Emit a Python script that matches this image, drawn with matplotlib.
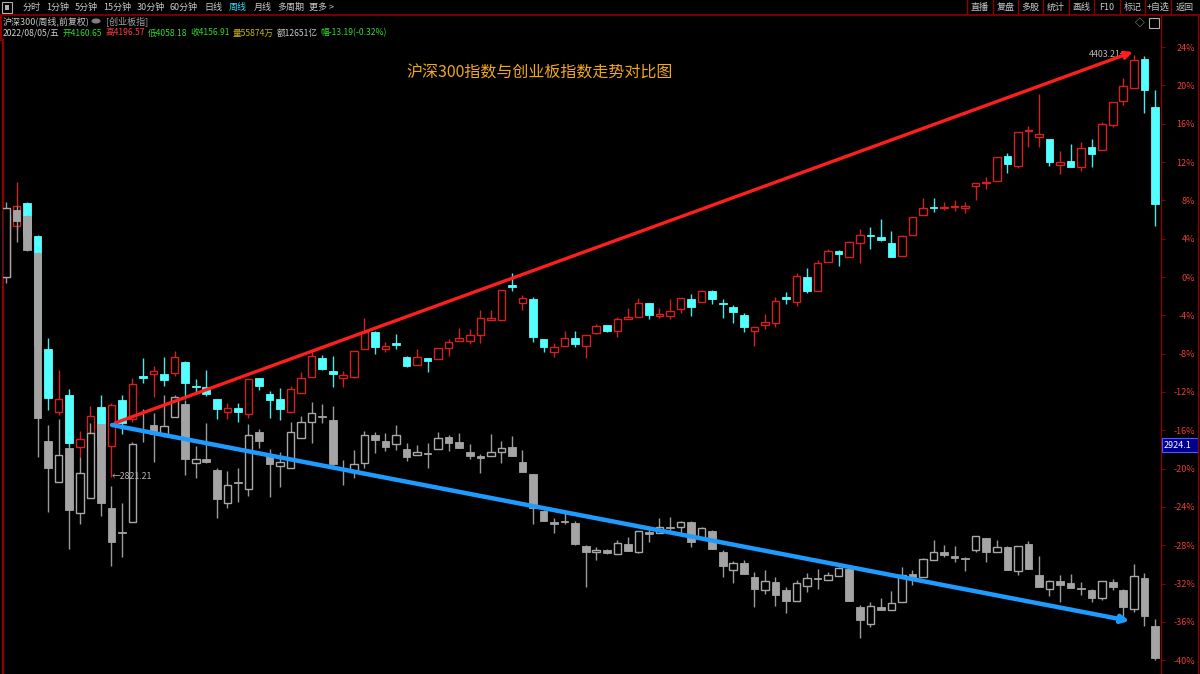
import matplotlib.pyplot as plt
from matplotlib.patches import Rectangle
from matplotlib.lines import Line2D
import numpy as np

# 中文字体，缺字时回退到 DejaVu
plt.rcParams['font.family'] = ['Noto Sans CJK SC', 'DejaVu Sans']

# ---------------- 数据 (周线, 相对首根开盘价的涨跌幅 %) ----------------
# 沪深300
hs_open = [0.00, 5.35, 7.76, 4.28, -7.52, -14.06, -12.32, -17.71, -16.25, -13.57,
           -17.64, -12.84, -14.85, -10.33, -10.12, -10.09, -10.05, -8.84, -11.38, -11.45,
           -12.77, -14.09, -13.70, -14.30, -10.57, -12.21, -12.73, -14.12, -12.14, -10.41,
           -8.42, -9.78, -10.51, -10.41, -7.52, -5.77, -7.52, -6.94, -8.35, -9.19,
           -8.49, -8.59, -7.44, -6.68, -6.68, -6.05, -4.52, -4.49, -0.84, -2.68,
           -2.33, -6.47, -7.80, -7.20, -6.34, -7.20, -5.88, -5.04, -5.67, -4.35,
           -4.18, -2.75, -4.02, -4.07, -3.37, -2.33, -2.64, -1.49, -2.68, -3.16,
           -3.97, -5.67, -5.01, -4.77, -2.12, -2.58, -0.03, -1.43, 1.53, 2.71,
           2.12, 3.58, 4.35, 4.21, 3.57, 2.21, 4.39, 6.50, 7.31, 7.20,
           7.31, 7.17, 9.45, 9.81, 9.98, 12.63, 11.59, 15.26, 14.57, 14.40,
           11.64, 12.13, 11.51, 13.58, 13.25, 15.86, 18.33, 19.70, 22.80, 17.71]
hs_high = [6.78, 9.88, 7.86, 4.38, -6.37, -9.71, -11.69, -16.04, -13.46, -12.32,
           -13.15, -12.32, -10.54, -8.49, -9.26, -8.35, -7.72, -8.77, -10.65, -9.71,
           -12.73, -13.18, -13.15, -10.65, -10.54, -11.90, -11.62, -11.35, -9.88, -7.62,
           -8.14, -8.25, -9.78, -7.72, -4.31, -5.64, -6.75, -5.95, -8.25, -7.55,
           -8.45, -7.41, -6.50, -5.35, -5.46, -3.44, -3.44, -1.36, 0.39, -1.88,
           -2.06, -6.47, -6.86, -5.61, -5.61, -6.05, -4.91, -4.98, -4.14, -3.27,
           -2.22, -2.71, -3.27, -2.33, -2.19, -1.77, -1.36, -1.36, -2.33, -2.92,
           -3.73, -5.22, -3.89, -2.12, -1.57, 0.45, 0.91, 1.77, 2.89, 2.79,
           3.76, 4.98, 5.19, 6.02, 4.80, 4.38, 6.26, 8.20, 8.20, 7.79,
           8.00, 7.79, 9.81, 10.48, 12.55, 12.95, 15.14, 15.73, 19.15, 14.40,
           13.16, 13.90, 14.07, 14.40, 16.14, 18.27, 20.73, 23.17, 23.09, 19.57]
hs_low = [0.00, 4.91, 3.86, -7.62, -13.88, -14.40, -17.64, -18.76, -16.25, -17.64,
          -20.84, -16.39, -15.10, -11.03, -12.49, -11.38, -10.33, -12.73, -12.11, -12.42,
          -14.82, -14.85, -15.10, -14.72, -11.79, -14.75, -14.93, -14.12, -12.14, -10.41,
          -9.71, -11.45, -11.51, -10.51, -7.52, -8.04, -7.83, -7.55, -9.39, -9.19,
          -9.88, -8.59, -8.25, -6.68, -7.02, -6.92, -4.52, -4.49, -1.43, -3.44,
          -6.75, -7.80, -8.38, -7.20, -7.28, -8.49, -5.95, -5.74, -6.23, -4.35,
          -4.18, -4.42, -4.31, -4.38, -3.79, -4.07, -2.64, -2.85, -4.25, -4.77,
          -5.71, -7.17, -5.46, -5.19, -2.82, -3.03, -1.64, -1.43, 1.53, 1.15,
          2.12, 1.49, 2.89, 3.76, 2.09, 2.21, 4.38, 6.50, 6.75, 6.96,
          6.89, 6.68, 8.00, 9.15, 9.98, 10.89, 11.38, 13.57, 13.57, 11.59,
          10.76, 11.48, 11.10, 11.51, 13.25, 15.66, 18.00, 19.70, 17.17, 5.32]
hs_close = [6.47, 7.44, 4.28, -7.10, -12.63, -12.77, -17.33, -16.94, -14.51, -17.64,
            -13.36, -15.24, -11.17, -10.49, -9.78, -10.75, -8.32, -11.03, -11.53, -12.24,
            -13.81, -13.70, -14.12, -10.65, -11.35, -12.84, -13.78, -11.69, -10.57, -8.25,
            -9.63, -10.16, -10.23, -7.72, -5.77, -7.28, -7.20, -7.05, -9.29, -8.32,
            -8.77, -7.44, -6.82, -6.40, -6.09, -4.31, -4.31, -1.39, -1.04, -2.22,
            -6.23, -7.28, -7.28, -6.34, -6.99, -6.05, -5.15, -5.67, -4.38, -4.14,
            -2.68, -3.97, -3.91, -3.55, -2.22, -3.16, -1.49, -2.33, -2.82, -3.62,
            -5.25, -5.25, -4.67, -2.54, -2.33, 0.14, -1.43, 1.43, 2.71, 2.40,
            3.68, 4.38, 4.25, 3.86, 2.09, 4.28, 6.26, 7.25, 7.20, 7.31,
            7.41, 7.46, 9.77, 9.88, 12.55, 11.79, 15.10, 15.36, 14.90, 12.00,
            12.05, 11.51, 13.50, 12.87, 15.93, 18.25, 19.99, 22.67, 19.57, 7.58]

# 创业板指 (叠加品种)
cy_open = [0.00, 6.99, 6.37, 2.54, -17.12, -21.37, -17.90, -24.67, -23.10, -15.34,
           -24.14, -26.62, -25.60, -16.00, -15.45, -16.42, -14.58, -13.29, -19.38, -19.00,
           -20.15, -23.56, -21.42, -22.13, -16.21, -18.51, -19.73, -19.97, -16.84, -15.10,
           -14.51, -14.96, -19.92, -20.39, -19.45, -16.49, -17.09, -17.46, -17.98, -18.55,
           -18.39, -17.95, -16.70, -17.25, -18.24, -18.68, -18.72, -18.30, -17.71, -19.28,
           -20.59, -24.43, -25.60, -25.49, -25.65, -28.08, -28.74, -28.50, -28.91, -27.90,
           -28.67, -26.59, -26.75, -26.10, -26.13, -25.54, -27.27, -26.48, -28.74, -30.58,
           -29.89, -31.28, -32.67, -31.87, -32.67, -33.79, -32.25, -31.40, -31.63, -31.18,
           -30.48, -34.41, -36.24, -34.46, -34.79, -33.97, -30.99, -31.27, -29.50, -28.72,
           -29.08, -29.36, -28.47, -27.26, -28.72, -28.17, -30.66, -27.89, -31.15, -32.52,
           -31.69, -31.90, -32.46, -32.64, -33.46, -31.82, -32.64, -34.66, -31.40, -36.44]
cy_high = [7.86, 7.41, 6.47, 2.61, -15.48, -14.85, -17.54, -18.79, -15.24, -15.34,
           -21.82, -23.62, -17.22, -13.81, -14.23, -12.32, -12.32, -12.84, -17.64, -15.27,
           -19.94, -20.22, -19.97, -15.34, -15.90, -17.98, -18.30, -15.14, -14.51, -13.02,
           -13.26, -13.47, -19.10, -18.06, -16.04, -16.15, -16.25, -15.45, -17.36, -17.57,
           -17.36, -16.15, -16.49, -16.31, -17.46, -18.48, -16.39, -17.09, -16.60, -18.06,
           -20.56, -24.32, -25.19, -24.50, -25.47, -27.97, -28.21, -28.39, -27.45, -27.17,
           -26.51, -26.23, -25.12, -25.02, -25.47, -25.47, -26.10, -26.41, -28.50, -29.64,
           -29.54, -30.76, -30.58, -31.28, -32.33, -31.63, -30.87, -30.51, -30.76, -30.27,
           -30.37, -34.24, -33.88, -33.55, -32.81, -30.24, -30.57, -29.33, -27.43, -27.97,
           -28.09, -29.23, -27.04, -27.24, -27.43, -28.04, -28.08, -27.56, -29.08, -31.63,
           -31.07, -30.99, -31.82, -32.57, -31.73, -31.48, -32.57, -29.96, -30.87, -35.70]
cy_low = [-0.66, 3.65, 2.75, -18.76, -24.56, -21.40, -28.42, -25.81, -23.10, -24.95,
          -30.17, -29.26, -25.60, -17.19, -19.28, -16.67, -14.58, -20.67, -21.01, -19.42,
          -25.12, -24.14, -23.45, -22.86, -17.88, -23.00, -21.89, -19.97, -16.84, -17.30,
          -15.27, -19.97, -21.71, -21.01, -19.97, -18.40, -18.13, -18.06, -19.21, -18.58,
          -19.97, -17.95, -18.13, -17.88, -19.03, -20.43, -18.72, -19.45, -18.68, -20.39,
          -25.78, -25.47, -26.69, -25.78, -27.97, -32.33, -29.54, -28.91, -28.91, -28.60,
          -28.84, -27.63, -26.75, -26.41, -26.75, -28.15, -27.27, -28.39, -31.28, -31.97,
          -31.00, -34.48, -33.09, -34.31, -35.10, -33.79, -32.85, -32.60, -31.63, -31.18,
          -33.82, -37.71, -36.53, -34.79, -34.79, -33.97, -32.11, -31.27, -29.50, -29.21,
          -29.75, -30.66, -28.71, -29.75, -28.72, -30.58, -31.07, -30.53, -32.39, -33.26,
          -33.88, -32.43, -33.21, -33.97, -33.67, -32.72, -35.70, -35.00, -36.44, -39.96]
cy_close = [7.17, 5.85, 2.82, -14.75, -19.91, -18.58, -24.32, -20.49, -16.25, -23.59,
            -27.69, -26.72, -17.46, -16.11, -16.39, -15.52, -12.56, -19.00, -19.00, -19.28,
            -23.20, -21.71, -21.52, -16.49, -17.09, -19.55, -19.34, -16.23, -15.17, -14.23,
            -14.61, -19.55, -20.02, -19.52, -16.49, -17.01, -17.71, -16.52, -18.76, -18.27,
            -18.50, -16.84, -17.30, -17.88, -18.65, -18.86, -18.24, -17.88, -18.68, -20.39,
            -24.14, -25.47, -25.81, -25.59, -27.90, -28.67, -28.50, -28.84, -27.80, -28.60,
            -26.51, -26.83, -26.06, -26.20, -25.54, -27.69, -26.23, -28.39, -30.17, -29.89,
            -31.00, -32.60, -31.73, -33.19, -33.79, -31.97, -31.45, -31.50, -31.11, -30.41,
            -33.79, -35.80, -34.37, -34.79, -34.05, -31.07, -31.27, -29.41, -28.67, -29.01,
            -29.33, -29.47, -27.06, -28.72, -28.17, -30.57, -28.09, -30.53, -32.39, -31.69,
            -32.11, -32.43, -32.57, -33.55, -31.77, -32.39, -34.46, -31.19, -35.41, -39.75]

# 右侧坐标刻度
y_ticks = list(range(24, -41, -4))
y_tick_labels = [f'{t}%' for t in y_ticks]

# 画线工具画的两条趋势线 (K线序号, 涨跌幅%)
red_line = [(10.34, -15.24), (106.9, 23.49)]
blue_line = [(10.06, -15.45), (106.6, -35.9)]

# 顶部工具栏
toolbar_items = ['分时', '1分钟', '5分钟', '15分钟', '30分钟', '60分钟', '日线', '周线', '月线', '多周期', '更多 >']
toolbar_x = [23, 46, 75, 103, 137, 170, 204, 229, 254, 277, 309]
right_buttons = ['直播', '复盘', '多股', '统计', '画线', 'F10', '标记', '+自选', '返回']
right_sep_x = [967, 993, 1018, 1043, 1069, 1094, 1120, 1145, 1171]

# 行情信息栏
info_parts = [('2022/08/05/五', '#d0d0d0'), ('开4160.65', '#30d830'), ('高4196.57', '#ff3c3c'),
              ('低4058.18', '#30d830'), ('收4156.91', '#30d830'), ('量55874万', '#c8b400'),
              ('额12651亿', '#c8c8c8'), ('幅-13.19(-0.32%)', '#30d830')]

W, H = 1200, 674
DARK_RED = '#8c0000'


def fx(px):
    return px / W


def fy(py):
    return 1 - py / H


def draw_candles(ax, o, h, l, c, up_edge, down_face, wick_up, wick_down, z):
    """画K线: 阳线空心, 阴线实心"""
    o, h, l, c = map(np.asarray, (o, h, l, c))
    x = np.arange(len(o))
    up = c >= o
    ax.vlines(x[up], l[up], h[up], colors=wick_up, linewidth=1, zorder=z)
    ax.vlines(x[~up], l[~up], h[~up], colors=wick_down, linewidth=1, zorder=z)
    bottom = np.minimum(o, c)
    height = np.maximum(np.abs(c - o), 0.08)
    ax.bar(x[up], height[up], bottom=bottom[up], width=0.72, facecolor='black',
           edgecolor=up_edge, linewidth=1, zorder=z + 1)
    ax.bar(x[~up], height[~up], bottom=bottom[~up], width=0.72, facecolor=down_face,
           edgecolor=down_face, linewidth=0.6, zorder=z + 1)


fig = plt.figure(figsize=(12, 6.74), dpi=100, facecolor='black')
ax = fig.add_axes([fx(3), 0, fx(1158), 634 / H])
ax.set_facecolor('black')
ax.set_xlim(-0.285, 109.58)
ax.set_ylim(-41.44, 24.74)

# 主图沪深300, 叠加创业板(灰色, 画在上面)
draw_candles(ax, hs_open, hs_high, hs_low, hs_close, '#d42020', '#54ffff', '#d42020', '#4ee8e8', 2)
draw_candles(ax, cy_open, cy_high, cy_low, cy_close, '#a8a8a8', '#a4a4a4', '#9a9a9a', '#9a9a9a', 4)

# 趋势线
for pts, col, lw in [(red_line, '#ff1e1e', 2.4), (blue_line, '#1e9bff', 3.2)]:
    ax.annotate('', xy=pts[1], xytext=pts[0],
                arrowprops=dict(arrowstyle='-|>', color=col, lw=lw, mutation_scale=11,
                                shrinkA=0, shrinkB=0), zorder=10)

# 最高/最低价标注
i_hi = int(np.argmax(hs_high))
i_lo = int(np.argmin(hs_low))
ax.text(i_hi - 0.4, hs_high[i_hi] + 0.05, '4403.21→', color='#b8b8b8', fontsize=6.3,
        ha='right', va='center', zorder=8)
ax.text(i_lo + 0.05, hs_low[i_lo], '←2821.21', color='#b8b8b8', fontsize=6.3,
        ha='left', va='center', zorder=8)

# 坐标轴样式
for side in ['top', 'bottom']:
    ax.spines[side].set_visible(False)
ax.spines['left'].set_color(DARK_RED)
ax.spines['left'].set_linewidth(1.6)
ax.spines['right'].set_color(DARK_RED)
ax.spines['right'].set_linewidth(1.0)
ax.set_xticks([])
ax.yaxis.tick_right()
ax.set_yticks(y_ticks)
ax.set_yticklabels(y_tick_labels)
ax.tick_params(axis='y', direction='out', length=3, width=0.8, color=DARK_RED,
               labelcolor='#e83c3c', labelsize=6.5, pad=21.5)
for lab in ax.get_yticklabels():
    lab.set_horizontalalignment('right')

# 标题
fig.text(fx(540), fy(73), '沪深300指数与创业板指数走势对比图', color='#f0a818',
         fontsize=11.5, ha='center', va='center')

# 工具栏 / 边框线
fig.add_artist(Line2D([0, 1], [fy(15), fy(15)], color=DARK_RED, lw=1.2))
fig.add_artist(Line2D([fx(1161), fx(1161)], [fy(15), fy(40)], color=DARK_RED, lw=1.0))
fig.add_artist(Line2D([fx(1198), fx(1198)], [0, fy(15)], color=DARK_RED, lw=1.0))
fig.add_artist(Line2D([fx(1), fx(1)], [fy(15), fy(40)], color=DARK_RED, lw=1.6))
fig.add_artist(Rectangle((fx(2), fy(13)), fx(10), 11 / H, transform=fig.transFigure,
                         facecolor='none', edgecolor='#b0b0b0', lw=0.8))
fig.add_artist(Rectangle((fx(5), fy(10)), fx(4), 5 / H, transform=fig.transFigure,
                         facecolor='#b0b0b0', edgecolor='none'))
for name, x in zip(toolbar_items, toolbar_x):
    col = '#3cd8f0' if name == '周线' else '#c8c8c8'
    fig.text(fx(x), fy(7.5), name, color=col, fontsize=6.5, ha='left', va='center')
for x in right_sep_x:
    fig.add_artist(Line2D([fx(x), fx(x)], [fy(0), fy(15)], color=DARK_RED, lw=1.0))
for i, name in enumerate(right_buttons):
    x0 = right_sep_x[i]
    x1 = right_sep_x[i + 1] if i + 1 < len(right_sep_x) else 1199
    fig.text(fx((x0 + x1) / 2), fy(7.5), name, color='#c8c8c8', fontsize=6.5,
             ha='center', va='center')

# 行情信息
fig.text(fx(3), fy(21), '沪深300(周线,前复权)', color='#c8c8c8', fontsize=6.5, va='center')
fig.add_artist(plt.Circle((fx(96), fy(21)), 4.5 / W, transform=fig.transFigure,
                          facecolor='#808080', edgecolor='none'))
fig.text(fx(106), fy(21), '[创业板指]', color='#a0a0a0', fontsize=6.5, va='center')

# 第二行按文字宽度依次排开
renderer = fig.canvas.get_renderer()
cur_x = 3
for txt, col in info_parts:
    t = fig.text(fx(cur_x), fy(33), txt, color=col, fontsize=6.2, va='center')
    cur_x += t.get_window_extent(renderer=renderer).width + 3

fig.text(fx(1140), fy(23), '◇', color='#c0c0c0', fontsize=7, ha='center', va='center')
fig.add_artist(Rectangle((fx(1149), fy(28)), fx(10), 10 / H, transform=fig.transFigure,
                         facecolor='none', edgecolor='#b0b0b0', lw=0.8))

# 右侧当前价格框
fig.add_artist(Rectangle((fx(1162), fy(452)), fx(36), 14 / H, transform=fig.transFigure,
                         facecolor='#000090', edgecolor='#4a5cff', lw=0.8))
fig.text(fx(1164), fy(445), '2924.1', color='white', fontsize=6.5, va='center')

plt.savefig('out.png', dpi=100, facecolor='black')
plt.close()
